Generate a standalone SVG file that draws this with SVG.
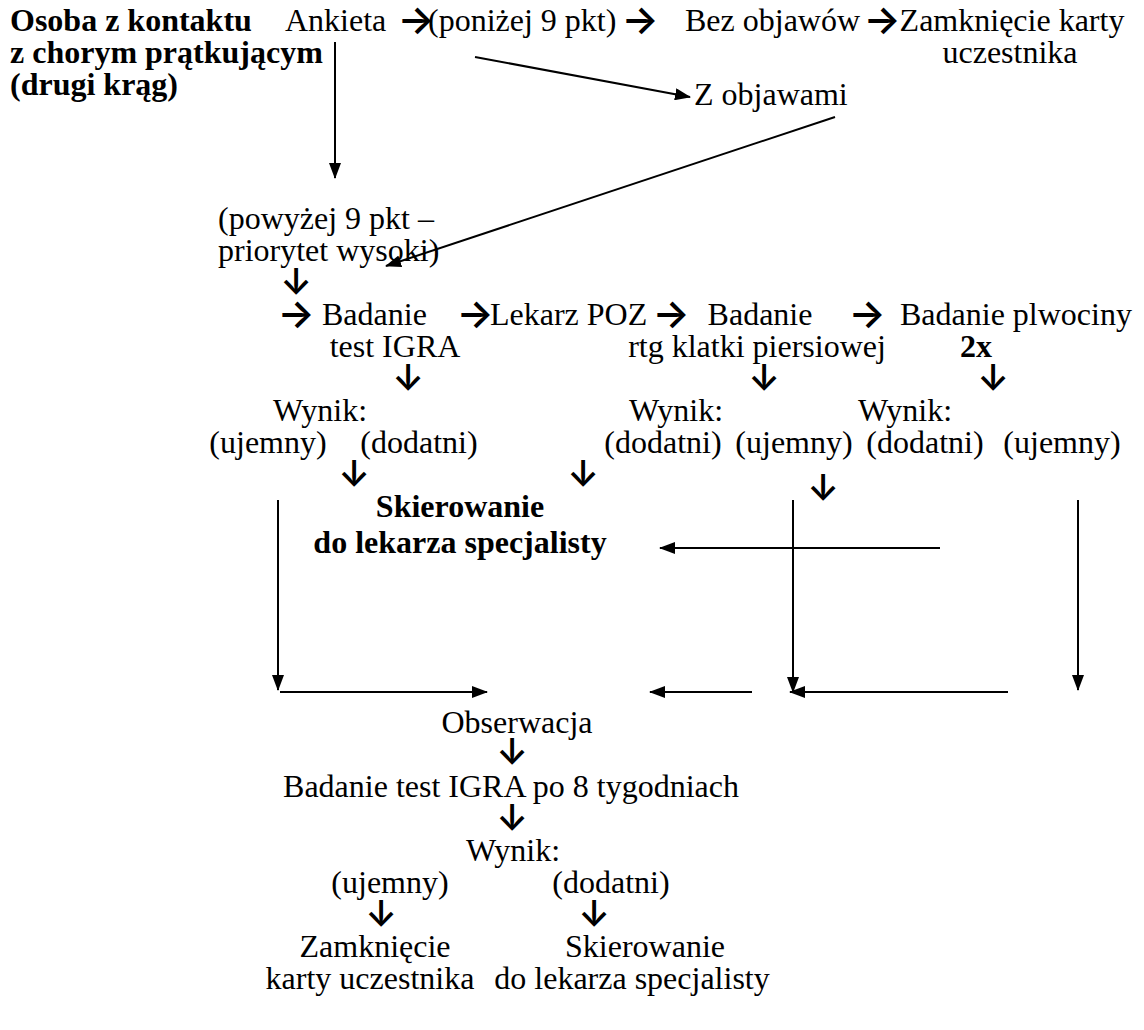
<svg xmlns="http://www.w3.org/2000/svg" width="1144" height="1030" viewBox="0 0 1144 1030">
<defs>
<style>
text{font-family:"Liberation Serif","Times New Roman",serif;font-size:32px;fill:#000}
.b{font-weight:bold}
.m{text-anchor:middle}
.ar{font-family:Inter,"Noto Sans",sans-serif;font-size:39px;font-weight:600;text-anchor:middle}
.dn{font-family:Inter,"Noto Sans",sans-serif;font-size:36px;font-weight:600;text-anchor:middle}
.ln{stroke:#000;stroke-width:2;fill:none}
</style>
<marker id="ah" markerWidth="16" markerHeight="12" refX="15" refY="6" orient="auto" markerUnits="userSpaceOnUse">
<path d="M0,0 L16,6 L0,12 Z" fill="#000"/>
</marker>
</defs>
<rect width="1144" height="1030" fill="#fff"/>
<g id="connectors">
<line class="ln" x1="335" y1="42" x2="335" y2="178" marker-end="url(#ah)"/>
<line class="ln" x1="475" y1="57" x2="690" y2="97" marker-end="url(#ah)"/>
<line class="ln" x1="835" y1="117" x2="386" y2="266" marker-end="url(#ah)"/>
<line class="ln" x1="940" y1="548" x2="660" y2="548" marker-end="url(#ah)"/>
<line class="ln" x1="278" y1="500" x2="278" y2="690" marker-end="url(#ah)"/>
<line class="ln" x1="793" y1="500" x2="793" y2="692" marker-end="url(#ah)"/>
<line class="ln" x1="1078" y1="500" x2="1078" y2="690" marker-end="url(#ah)"/>
<line class="ln" x1="280" y1="692" x2="487" y2="692" marker-end="url(#ah)"/>
<line class="ln" x1="752" y1="692" x2="650" y2="692" marker-end="url(#ah)"/>
<line class="ln" x1="1008" y1="692" x2="790" y2="692" marker-end="url(#ah)"/>
</g>
<g id="start">
<text class="b" x="10" y="31">Osoba z kontaktu</text>
<text class="b" x="10" y="63">z chorym prątkującym</text>
<text class="b" x="10" y="95">(drugi krąg)</text>
</g>
<g id="ankieta"><text x="285" y="31">Ankieta</text><text class="ar" x="416" y="33">→</text></g>
<g id="ponizej"><text x="428" y="31">(poniżej 9 pkt)</text><text class="ar" x="640" y="33">→</text></g>
<g id="bez"><text x="685" y="31">Bez objawów</text><text class="ar" x="882" y="33">→</text></g>
<g id="zamkniecie1"><text class="m" x="1012" y="31">Zamknięcie karty</text><text class="m" x="1010" y="63">uczestnika</text></g>
<g id="zobjawami"><text x="694" y="105">Z objawami</text></g>
<g id="powyzej">
<text x="218" y="229">(powyżej 9 pkt –</text>
<text x="218" y="261">priorytet wysoki)</text>
<text class="dn" x="296" y="294">↓</text>
</g>
<g id="igra">
<text class="ar" x="296" y="327">→</text>
<text x="322" y="325">Badanie</text>
<text class="m" x="395" y="357">test IGRA</text>
<text class="dn" x="408" y="390">↓</text>
<text class="ar" x="475" y="327">→</text>
</g>
<g id="poz"><text x="490" y="325">Lekarz POZ</text><text class="ar" x="671" y="327">→</text></g>
<g id="rtg">
<text class="m" x="760" y="325">Badanie</text>
<text class="m" x="757" y="357">rtg klatki piersiowej</text>
<text class="dn" x="764" y="390">↓</text>
<text class="ar" x="867" y="327">→</text>
</g>
<g id="plwocina">
<text x="900" y="325">Badanie plwociny</text>
<text class="b m" x="976" y="357">2x</text>
<text class="dn" x="993" y="390">↓</text>
</g>
<g id="wynik1">
<text class="m" x="320" y="421">Wynik:</text>
<text class="m" x="268" y="453">(ujemny)</text>
<text class="m" x="419" y="453">(dodatni)</text>
<text class="dn" x="354" y="486">↓</text>
</g>
<g id="wynik2">
<text class="m" x="676" y="421">Wynik:</text>
<text class="m" x="663" y="453">(dodatni)</text>
<text class="m" x="794" y="453">(ujemny)</text>
<text class="dn" x="583" y="486">↓</text>
</g>
<g id="wynik3">
<text class="m" x="905" y="421">Wynik:</text>
<text class="m" x="925" y="453">(dodatni)</text>
<text class="m" x="1062" y="453">(ujemny)</text>
<text class="dn" x="823" y="500">↓</text>
</g>
<g id="skierowanie1">
<text class="b m" x="460" y="517">Skierowanie</text>
<text class="b m" x="460" y="553">do lekarza specjalisty</text>
</g>
<g id="obserwacja">
<text class="m" x="517" y="733">Obserwacja</text>
<text class="dn" x="512" y="764">↓</text>
</g>
<g id="igra8">
<text class="m" x="511" y="797">Badanie test IGRA po 8 tygodniach</text>
<text class="dn" x="512" y="830">↓</text>
</g>
<g id="wynik4">
<text class="m" x="513" y="861">Wynik:</text>
<text class="m" x="390" y="893">(ujemny)</text>
<text class="m" x="611" y="893">(dodatni)</text>
<text class="dn" x="381" y="926">↓</text>
<text class="dn" x="594" y="926">↓</text>
</g>
<g id="zamkniecie2">
<text class="m" x="375" y="957">Zamknięcie</text>
<text class="m" x="370" y="989">karty uczestnika</text>
</g>
<g id="skierowanie2">
<text class="m" x="645" y="957">Skierowanie</text>
<text class="m" x="632" y="989">do lekarza specjalisty</text>
</g>
</svg>
